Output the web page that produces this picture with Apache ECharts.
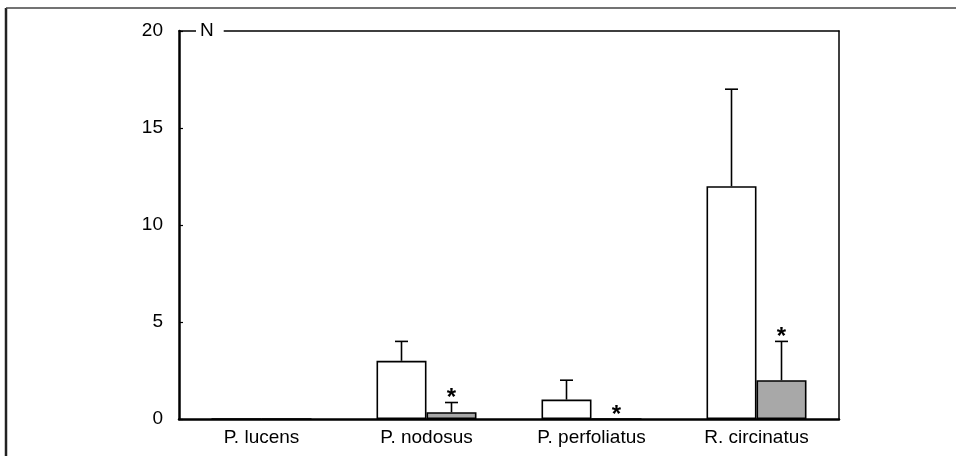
<!DOCTYPE html>
<html>
<head>
<meta charset="utf-8">
<script src="https://cdn.jsdelivr.net/npm/echarts@6/dist/echarts.min.js"></script>
<style>html,body{margin:0;padding:0;background:#fff}#c{width:956px;height:456px}</style>
</head>
<body>
<div id="c"></div>
<script>
// ---- data ----
var categories = ['P. lucens', 'P. nodosus', 'P. perfoliatus', 'R. circinatus'];
var whiteValues = [0, 3, 1, 12];
var whiteErrTop = [null, 4, 2, 17];
var grayValues = [0, 0.35, 0, 2];
var grayErrTop = [null, 0.85, null, 4];
var graySignificant = [false, true, true, true];
var yTicks = [0, 5, 10, 15, 20];
var yName = 'N';

// ---- chart ----
var FONT = "'Liberation Sans', Arial, Helvetica, sans-serif";
var BAR_W = 50;
var INK = '#000';

var chart = echarts.init(document.getElementById('c'), null, {renderer: 'canvas'});

function errRender(offsetSign, errArr, valArr) {
  return function (params, api) {
    var i = api.value(0);
    var err = errArr[i];
    if (err == null) return null;
    var p0 = api.coord([i, valArr[i]]);
    var p1 = api.coord([i, err]);
    var x = p0[0] + offsetSign * BAR_W / 2;
    var cap = 6.5;
    return {
      type: 'group',
      children: [
        {type: 'line', shape: {x1: x, y1: p0[1], x2: x, y2: p1[1]}, style: {stroke: INK, lineWidth: 1.6}},
        {type: 'line', shape: {x1: x - cap, y1: p1[1], x2: x + cap, y2: p1[1]}, style: {stroke: INK, lineWidth: 1.6}}
      ]
    };
  };
}

function starRender(params, api) {
  var i = api.value(0);
  if (!graySignificant[i]) return null;
  var top = grayErrTop[i] != null ? grayErrTop[i] : grayValues[i];
  var p = api.coord([i, top]);
  var x = p[0] + BAR_W / 2;
  return {
    type: 'text',
    style: {
      text: '*', x: x, y: p[1] - 16,
      align: 'center', verticalAlign: 'top',
      font: 'bold 24px ' + FONT, fill: INK
    }
  };
}

var idx = categories.map(function (c, i) { return [i]; });

var option = {
  backgroundColor: '#fff',
  animation: false,
  grid: {left: 179, right: 117, top: 31, bottom: 37, containLabel: false},
  graphic: [
    {type: 'line', shape: {x1: 6, y1: 8, x2: 6, y2: 456}, style: {stroke: '#222', lineWidth: 2.5}, z: 100},
    {type: 'line', shape: {x1: 6, y1: 8, x2: 956, y2: 8}, style: {stroke: '#444', lineWidth: 1.5}, z: 100}
  ],
  xAxis: [
    {
      type: 'category', data: categories, position: 'bottom',
      axisLine: {show: true, lineStyle: {color: INK, width: 2.5}},
      axisTick: {show: false},
      axisLabel: {color: INK, fontSize: 19, fontFamily: FONT, margin: 9},
      splitLine: {show: false},
      z: 2
    },
    {
      type: 'category', data: categories, position: 'top',
      axisLine: {show: true, onZero: false, lineStyle: {color: INK, width: 1.5}},
      axisTick: {show: false}, axisLabel: {show: false}, splitLine: {show: false},
      z: 1
    }
  ],
  yAxis: [
    {
      type: 'value', min: yTicks[0], max: yTicks[yTicks.length - 1], interval: yTicks[1] - yTicks[0],
      position: 'left',
      name: '{n|' + yName + '}', nameLocation: 'end', nameGap: 0,
      nameTextStyle: {
        align: 'left', verticalAlign: 'middle', padding: [0, 0, 0, 17],
        rich: {n: {backgroundColor: '#fff', padding: [2, 10, 2, 4], fontSize: 19, fontFamily: FONT, color: INK}}
      },
      axisLine: {show: true, lineStyle: {color: INK, width: 2.5}},
      axisTick: {show: true, inside: true, length: 4, lineStyle: {color: INK, width: 1.2}},
      axisLabel: {color: INK, fontSize: 19, fontFamily: FONT, margin: 16},
      splitLine: {show: false},
      z: 5
    },
    {
      type: 'value', min: yTicks[0], max: yTicks[yTicks.length - 1], interval: yTicks[1] - yTicks[0],
      position: 'right',
      axisLine: {show: true, onZero: false, lineStyle: {color: INK, width: 1.5}},
      axisTick: {show: false}, axisLabel: {show: false}, splitLine: {show: false},
      z: 1
    }
  ],
  series: [
    {
      type: 'bar', data: whiteValues, barWidth: BAR_W, barGap: '0%',
      itemStyle: {color: '#fff', borderColor: INK, borderWidth: 1.6}, z: 3
    },
    {
      type: 'bar', data: grayValues, barWidth: BAR_W, barGap: '0%',
      itemStyle: {color: '#a8a8a8', borderColor: INK, borderWidth: 1.6}, z: 3
    },
    {type: 'custom', data: idx, renderItem: errRender(-1, whiteErrTop, whiteValues), z: 4},
    {type: 'custom', data: idx, renderItem: errRender(1, grayErrTop, grayValues), z: 4},
    {type: 'custom', data: idx, renderItem: starRender, z: 4}
  ]
};
chart.setOption(option);
</script>
</body>
</html>
